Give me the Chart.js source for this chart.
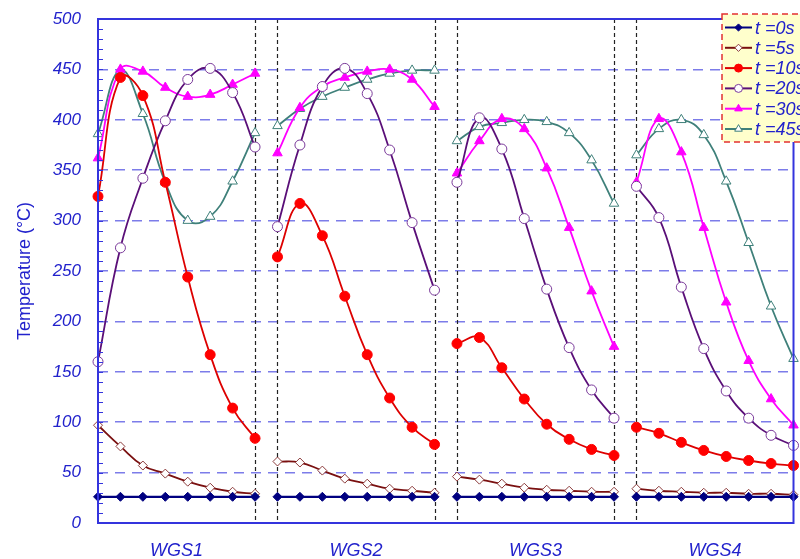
<!DOCTYPE html>
<html>
<head>
<meta charset="utf-8">
<script src="https://cdn.jsdelivr.net/npm/chart.js@4"></script>
<style>
  html, body { margin: 0; background: #fff; }
</style>
</head>
<body>
<canvas id="chart" width="800" height="559"></canvas>
<script>
// section names (x axis), 8 positions in each section
const sections = ['WGS1', 'WGS2', 'WGS3', 'WGS4'];
const perSection = 8;
const seriesLabels = ['t =0s', 't =5s', 't =10s', 't =20s', 't =30s', 't =45s'];

// temperatures, WGS1..WGS4 back to back
const t0 = [26, 26, 26, 26, 26, 26, 26, 26,  26, 26, 26, 26, 26, 26, 26, 26,
            26, 26, 26, 26, 26, 26, 26, 26,  26, 26, 26, 26, 26, 26, 26, 26];
const t5 = [97, 76, 57, 49, 41, 35, 31, 29,  61, 60, 52, 44, 39, 34, 32, 30,
            46, 43, 39, 35, 33, 32, 31, 31,  34, 32, 31, 30, 30, 29, 29, 28];
const t10 = [324, 442, 424, 338, 244, 167, 114, 84,  264, 317, 285, 225, 167, 124, 95, 78,
             178, 184, 154, 123, 98, 83, 73, 67,  95, 89, 80, 72, 66, 62, 59, 57];
const t20 = [160, 273, 342, 399, 440, 451, 427, 373,  294, 375, 433, 451, 426, 370, 298, 231,
             338, 402, 371, 302, 232, 174, 132, 104,  334, 303, 234, 173, 131, 104, 87, 77];
const t30 = [362, 450, 448, 432, 423, 425, 435, 446,  367, 412, 433, 442, 448, 450, 440, 413,
             347, 379, 401, 391, 352, 293, 230, 175,  338, 401, 368, 293, 219, 161, 123, 97];
const t45 = [386, 449, 406, 338, 300, 304, 339, 387,  394, 411, 423, 432, 440, 446, 449, 449,
             379, 393, 397, 400, 398, 387, 360, 317,  365, 391, 400, 385, 339, 278, 215, 163];

const blue = '#2222cc';
const font = 'Arial, "Liberation Sans", sans-serif';

// turn a flat list into points, with a break between sections
function toPoints(vals) {
  const pts = [];
  for (let i = 0; i < vals.length; i++) {
    pts.push({ x: i, y: vals[i] });
    if (i % perSection == perSection - 1 && i < vals.length - 1) pts.push({ x: i + 0.5, y: null });
  }
  return pts;
}

const styles = [
  { line: '#000080', border: '#000080', fill: '#000080', shape: 'rectRot', r: 4.5, w: 2.2 },
  { line: '#7a1010', border: '#8b3a3a', fill: '#ffffff', shape: 'rectRot', r: 4.5, w: 1.8 },
  { line: '#dd0000', border: '#ff0000', fill: '#ff0000', shape: 'circle', r: 5, w: 1.8 },
  { line: '#5a0f78', border: '#7a3a9a', fill: '#ffffff', shape: 'circle', r: 5, w: 1.8 },
  { line: '#ff00ff', border: '#ff00ff', fill: '#ff00ff', shape: 'triangle', r: 5.5, w: 1.8 },
  { line: '#3f807a', border: '#3f807a', fill: '#ffffff', shape: 'triangle', r: 5.5, w: 1.8 }
];
const allSeries = [t0, t5, t10, t20, t30, t45];

const datasets = allSeries.map((vals, i) => ({
  label: seriesLabels[i],
  data: toPoints(vals),
  borderColor: styles[i].line,
  borderWidth: styles[i].w,
  pointStyle: styles[i].shape,
  pointRadius: styles[i].r,
  pointBorderColor: styles[i].border,
  pointBackgroundColor: styles[i].fill,
  pointBorderWidth: 1,
  tension: 0.45,
  spanGaps: false,
  clip: false
}));

// dashed black lines at section boundaries, frame, small ticks and legend box
const decor = {
  id: 'decor',
  beforeDatasetsDraw(chart) {
    const ctx = chart.ctx, a = chart.chartArea, xs = chart.scales.x;
    ctx.save();
    ctx.strokeStyle = '#222';
    ctx.lineWidth = 1.2;
    ctx.setLineDash([4, 3]);
    for (let k = 1; k < sections.length; k++) {
      [k * perSection - 1, k * perSection].forEach(v => {
        const px = Math.round(xs.getPixelForValue(v)) + 0.5;
        ctx.beginPath();
        ctx.moveTo(px, a.top);
        ctx.lineTo(px, a.bottom);
        ctx.stroke();
      });
    }
    ctx.restore();
  },
  afterDraw(chart) {
    const ctx = chart.ctx, a = chart.chartArea, ys = chart.scales.y;
    ctx.save();
    ctx.strokeStyle = '#3434dd';
    ctx.lineWidth = 2;
    ctx.strokeRect(a.left, a.top, a.right - a.left, a.bottom - a.top);
    ctx.lineWidth = 1;
    for (let v = 10; v < 500; v += 10) {
      const py = Math.round(ys.getPixelForValue(v)) + 0.5;
      ctx.beginPath();
      ctx.moveTo(a.left, py);
      ctx.lineTo(a.left + 5, py);
      ctx.stroke();
    }

    // legend
    const lx = 722, ly = 14, lw = 90, lh = 128;
    ctx.fillStyle = '#ffffcc';
    ctx.fillRect(lx, ly, lw, lh);
    ctx.strokeStyle = '#e23030';
    ctx.lineWidth = 1.5;
    ctx.setLineDash([6, 4]);
    ctx.strokeRect(lx, ly, lw, lh);
    ctx.setLineDash([]);
    ctx.font = 'italic 18px ' + font;
    ctx.textBaseline = 'middle';
    seriesLabels.forEach((lab, i) => {
      const y = 27.5 + i * 20.3;
      const s = styles[i];
      ctx.strokeStyle = s.line;
      ctx.lineWidth = 2;
      ctx.beginPath();
      ctx.moveTo(725, y);
      ctx.lineTo(752, y);
      ctx.stroke();
      ctx.fillStyle = s.fill;
      ctx.strokeStyle = s.border;
      ctx.lineWidth = 1;
      Chart.helpers.drawPoint(ctx, { pointStyle: s.shape, radius: s.r * 0.8, rotation: 0, borderWidth: 1 }, 738.5, y);
      ctx.fillStyle = blue;
      ctx.fillText(lab, 755, y + 1);
    });
    ctx.restore();
  }
};

new Chart(document.getElementById('chart'), {
  type: 'line',
  data: { datasets: datasets },
  options: {
    responsive: false,
    animation: false,
    layout: { padding: { top: 19, right: 3, left: 0, bottom: 0 } },
    plugins: { legend: { display: false }, tooltip: { enabled: false } },
    scales: {
      x: {
        type: 'linear',
        min: 0,
        max: sections.length * perSection - 1,
        afterBuildTicks: s => {
          s.ticks = sections.map((n, k) => ({ value: k * perSection + (perSection - 1) / 2 }));
        },
        afterFit: s => { s.height = 36; },
        grid: { display: false },
        border: { display: false },
        ticks: {
          padding: 9,
          color: blue,
          font: { family: font, size: 18, style: 'italic' },
          callback: v => sections[Math.round((v - (perSection - 1) / 2) / perSection)]
        }
      },
      y: {
        min: 0,
        max: 500,
        afterFit: s => { s.width = 98; },
        grid: {
          color: 'rgba(80, 80, 225, 0.75)',
          lineWidth: 1.5,
          drawTicks: true,
          tickLength: 17,
          tickColor: 'rgba(0, 0, 0, 0)'
        },
        border: { display: false, dash: [10, 7] },
        ticks: {
          stepSize: 50,
          padding: 0,
          color: blue,
          font: { family: font, size: 17, style: 'italic' }
        },
        title: {
          display: true,
          text: 'Temperature (°C)',
          color: blue,
          font: { family: font, size: 18 },
          padding: { top: 14, bottom: 0 }
        }
      }
    }
  },
  plugins: [decor]
});
</script>
</body>
</html>
